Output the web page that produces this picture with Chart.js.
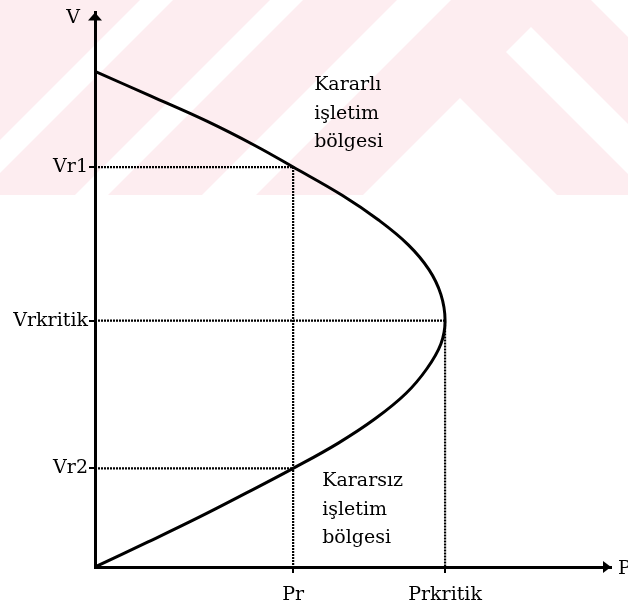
<!DOCTYPE html>
<html><head><meta charset="utf-8">
<script src="https://cdn.jsdelivr.net/npm/chart.js@4/dist/chart.umd.min.js"></script>
<style>html,body{margin:0;padding:0;background:#fff}#wrap{width:628px;height:611px;position:relative}</style>
</head><body><div id="wrap"><canvas id="c" width="628" height="611"></canvas></div>
<script>
// ---- data (P normalised to Prkritik = 1, V normalised to no-load V = 1) ----
const P_R = 0.566;
const P_KRITIK = 1.0;
const V_R1 = 0.807;
const V_RKRITIK = 0.497;
const V_R2 = 0.199;
const P_MAX = 1.474;
const V_MAX = 1.119;

// nose curve, from no-load point down to the origin
const curveV = [1.0, 0.95, 0.9, 0.85, 0.807, 0.75, 0.7, 0.65, 0.6, 0.55, 0.497, 0.45, 0.4, 0.35, 0.3, 0.25, 0.199, 0.15, 0.1, 0.05, 0];
const curveP = [0, 0.16, 0.318, 0.458, 0.566, 0.706, 0.81, 0.895, 0.954, 0.988, 1.0, 0.988, 0.948, 0.888, 0.802, 0.695, 0.566, 0.434, 0.296, 0.15, 0];

const yTickValues = [V_R2, V_RKRITIK, V_R1];
const yTickLabels = ['Vr2', 'Vrkritik', 'Vr1'];
const xTickValues = [P_R, P_KRITIK];
const xTickLabels = ['Pr', 'Prkritik'];
const axisNameX = 'P';
const axisNameY = 'V';

const stableText = ['Kararlı', 'işletim', 'bölgesi'];
const stableAnchor = [0.626, 0.962];
const unstableText = ['Kararsız', 'işletim', 'bölgesi'];
const unstableAnchor = [0.649, 0.163];

const FONT = "'DejaVu Serif', 'Liberation Serif', serif";
const INK = '#000';

const curve = curveP.map((p, i) => ({x: p, y: curveV[i]}));
const guideR1 = [{x: 0, y: V_R1}, {x: P_R, y: V_R1}, {x: P_R, y: 0}];
const guideK = [{x: 0, y: V_RKRITIK}, {x: P_KRITIK, y: V_RKRITIK}, {x: P_KRITIK, y: 0}];
const guideR2 = [{x: 0, y: V_R2}, {x: P_R, y: V_R2}];

function guide(data) {
  return {data, showLine: true, borderColor: INK, borderWidth: 2.2, borderDash: [2, 1],
          pointRadius: 0, tension: 0, fill: false};
}

// faint watermark behind the chart (decoration only)
const watermark = {
  id: 'watermark',
  beforeDraw(chart) {
    const ctx = chart.ctx;
    ctx.save();
    ctx.beginPath(); ctx.rect(0, 0, chart.width, 195); ctx.clip();
    ctx.fillStyle = 'rgb(253,237,240)';
    ctx.fillRect(0, 0, chart.width, 195);
    ctx.fillStyle = '#ffffff';
    const polys = [
      [[140,0],[173,0],[-227,400],[-260,400]],
      [[270,0],[303,0],[-97,400],[-130,400]],
      [[397,0],[451,0],[51,400],[-3,400]],
      [[591,0],[800,0],[800,209]],
      [[531,27],[800,296],[750,296],[506,52]],
      [[460,98],[760,398],[160,398]]
    ];
    for (const pg of polys) {
      ctx.beginPath();
      pg.forEach(([x, y], i) => i ? ctx.lineTo(x, y) : ctx.moveTo(x, y));
      ctx.closePath(); ctx.fill();
    }
    ctx.restore();
  }
};

const decorations = {
  id: 'decorations',
  afterDraw(chart) {
    const ctx = chart.ctx, xs = chart.scales.x, ys = chart.scales.y;
    const x0 = xs.getPixelForValue(0), y0 = ys.getPixelForValue(0);
    const top = ys.getPixelForValue(V_MAX), right = xs.getPixelForValue(P_MAX);
    ctx.save();
    ctx.fillStyle = INK;
    // arrow heads
    ctx.beginPath(); ctx.moveTo(x0, top); ctx.lineTo(x0 - 7, top + 8); ctx.lineTo(x0 + 7, top + 8); ctx.closePath(); ctx.fill();
    ctx.beginPath(); ctx.moveTo(right, y0); ctx.lineTo(right - 8, y0 - 6); ctx.lineTo(right - 8, y0 + 6); ctx.closePath(); ctx.fill();
    // axis names
    ctx.font = '19px ' + FONT;
    ctx.textBaseline = 'middle';
    ctx.textAlign = 'right'; ctx.fillText(axisNameY, x0 - 15, top + 6);
    ctx.textAlign = 'left'; ctx.fillText(axisNameX, right + 7, y0 + 2);
    // region labels
    ctx.textBaseline = 'alphabetic';
    ctx.textAlign = 'left';
    const lh = 28.5;
    const sx = xs.getPixelForValue(stableAnchor[0]), sy = ys.getPixelForValue(stableAnchor[1]);
    stableText.forEach((t, i) => ctx.fillText(t, sx, sy + i * lh));
    const ux = xs.getPixelForValue(unstableAnchor[0]), uy = ys.getPixelForValue(unstableAnchor[1]);
    unstableText.forEach((t, i) => ctx.fillText(t, ux, uy + i * lh));
    ctx.restore();
  }
};

new Chart(document.getElementById('c'), {
  type: 'scatter',
  data: {datasets: [
    {data: curve, showLine: true, borderColor: INK, borderWidth: 3, pointRadius: 0, tension: 0.4, fill: false},
    guide(guideR1), guide(guideK), guide(guideR2)
  ]},
  options: {
    responsive: false, animation: false,
    layout: {padding: {top: 11, right: 17, left: 0, bottom: 0}},
    plugins: {legend: {display: false}, tooltip: {enabled: false}},
    scales: {
      x: {
        type: 'linear', min: 0, max: P_MAX,
        afterFit(s) { s.height = 44; },
        afterBuildTicks(s) { s.ticks = xTickValues.map(v => ({value: v})); },
        grid: {drawOnChartArea: false, drawTicks: true, tickLength: 6, color: INK, lineWidth: 2},
        border: {display: true, color: INK, width: 3},
        ticks: {autoSkip: false, maxRotation: 0, padding: 11, color: INK,
                font: {family: FONT, size: 19},
                callback(v) { const i = xTickValues.indexOf(v); return i >= 0 ? xTickLabels[i] : ''; }}
      },
      y: {
        type: 'linear', min: 0, max: V_MAX,
        afterFit(s) { s.width = 95; },
        afterBuildTicks(s) { s.ticks = yTickValues.map(v => ({value: v})); },
        grid: {drawOnChartArea: false, drawTicks: true, tickLength: 6, color: INK, lineWidth: 2},
        border: {display: true, color: INK, width: 3},
        ticks: {autoSkip: false, padding: 1, color: INK,
                font: {family: FONT, size: 19},
                callback(v) { const i = yTickValues.indexOf(v); return i >= 0 ? yTickLabels[i] : ''; }}
      }
    }
  },
  plugins: [watermark, decorations]
});
</script></body></html>
